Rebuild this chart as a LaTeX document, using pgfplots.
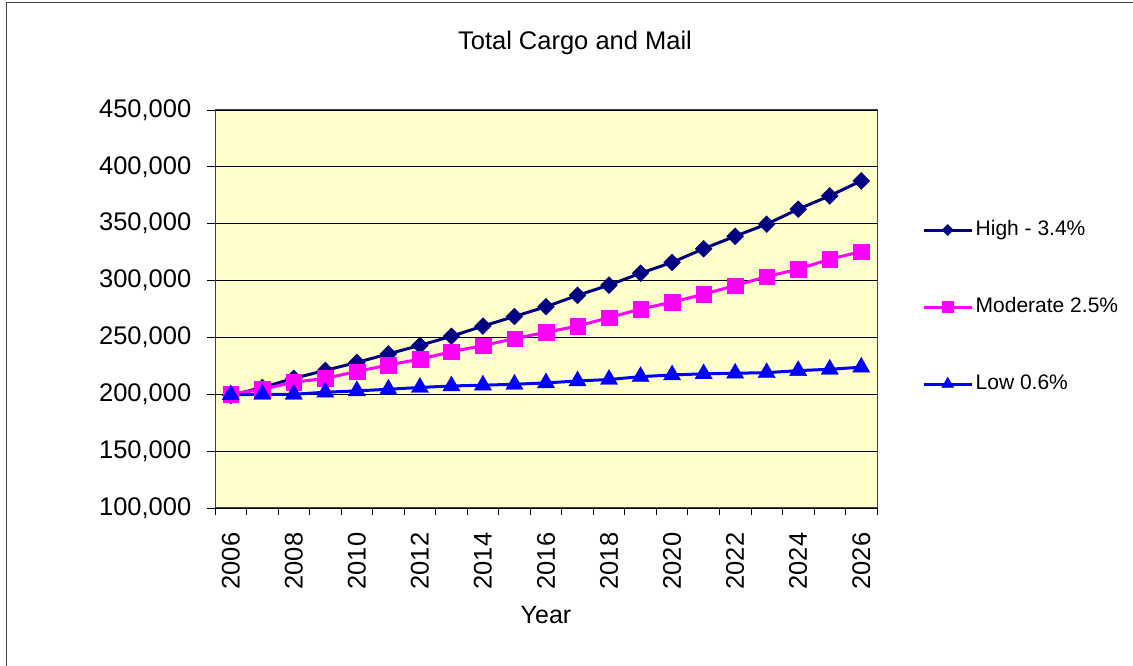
\documentclass[border=0pt]{standalone}
\usepackage{pgfplots}
\pgfplotsset{compat=1.18}
\usepackage{fontspec}
\setmainfont{Liberation Sans}
\definecolor{bgyellow}{HTML}{FFFFCC}
\definecolor{highc}{HTML}{000080}
\definecolor{modc}{HTML}{FF00FF}
\definecolor{lowc}{HTML}{0000FF}
\definecolor{framec}{HTML}{404040}
\pgfplotsset{legimg/.style={legend image code/.code={%
  \draw[##1] (0pt,0pt) -- (48pt,0pt);
  \draw[##1, mark size=#1] plot coordinates {(24pt,0pt)};}}}
\pgfplotstableread{
x high moderate low
0 199000 200000 199500
1 206000 204400 200000
2 214000 210600 200000
3 221000 214000 201800
4 228000 220000 203000
5 235500 225800 204400
6 243000 230800 206000
7 251000 237500 207300
8 260000 242800 208000
9 268400 249000 208800
10 277000 254500 210000
11 287000 260000 211700
12 296000 267400 213000
13 306500 275000 215500
14 316000 281000 217000
15 328000 288000 218000
16 339000 295600 218500
17 349600 303500 219000
18 362800 310000 220800
19 374500 318800 222000
20 387700 325500 223800
}\datatable
\begin{document}
\begin{tikzpicture}
\path[use as bounding box] (0pt,0pt) rectangle (1133pt,666pt);
\draw[framec, line width=1.5pt] (6.5pt,0pt) -- (6.5pt,663.5pt) -- (1133pt,663.5pt);
\node[anchor=base, font=\fontsize{25.5}{30}\selectfont] at (575pt,616pt) {Total Cargo and Mail};
\node[anchor=base, font=\fontsize{25}{30}\selectfont] at (546pt,42pt) {Year};
\begin{axis}[
  at={(215pt,158pt)}, anchor=south west,
  width=662pt, height=398pt, scale only axis,
  xmin=-0.5, xmax=20.5, ymin=100000, ymax=450000,
  axis background/.style={fill=bgyellow},
  axis line style={draw=framec, line width=1pt},
  xtick pos=bottom, ytick pos=left,
  ytick={100000,150000,200000,250000,300000,350000,400000,450000},
  yticklabels={{100,000},{150,000},{200,000},{250,000},{300,000},{350,000},{400,000},{450,000}},
  scaled y ticks=false,
  xtick={-0.5,0.5,...,20.5},
  x tick label as interval,
  xticklabels={2006,{},2008,{},2010,{},2012,{},2014,{},2016,{},2018,{},2020,{},2022,{},2024,{},2026},
  tick align=outside,
  major tick length=7.5pt,
  tick style={black, line width=0.8pt},
  ymajorgrids, major grid style={black, line width=0.8pt},
  ticklabel style={font=\fontsize{25.5}{30}\selectfont, inner sep=0pt},
  yticklabel style={xshift=-16pt},
  xticklabel style={rotate=90, anchor=east, xshift=-17pt},
  legend style={at={(1.068,0.505)}, anchor=west, draw=none, fill=none,
    inner sep=0pt, row sep=57pt,
    font=\fontsize{21}{25}\selectfont,
    nodes={inner sep=0pt, inner xsep=2.5pt, text height=15pt, text depth=5pt}},
  legend cell align=left,
  clip=false,
]
\addplot[highc, line width=3pt, mark=square*, mark size=6pt,
  mark options={rotate=45, fill=highc, draw=highc, line width=0.3pt},
  legimg=4pt]
  table[x=x, y=high] {\datatable};
\addlegendentry{High - 3.4\%}
\addplot[modc, line width=3pt, mark=square*, mark size=7.8pt,
  mark options={fill=modc, draw=modc, line width=0.3pt},
  legimg=5.5pt]
  table[x=x, y=moderate] {\datatable};
\addlegendentry{Moderate 2.5\%}
\addplot[lowc, line width=3pt, mark=triangle*, mark size=10pt,
  mark options={fill=lowc, draw=lowc, line width=0.3pt},
  legimg=7pt]
  table[x=x, y=low] {\datatable};
\addlegendentry{Low 0.6\%}
\end{axis}
\end{tikzpicture}
\end{document}
